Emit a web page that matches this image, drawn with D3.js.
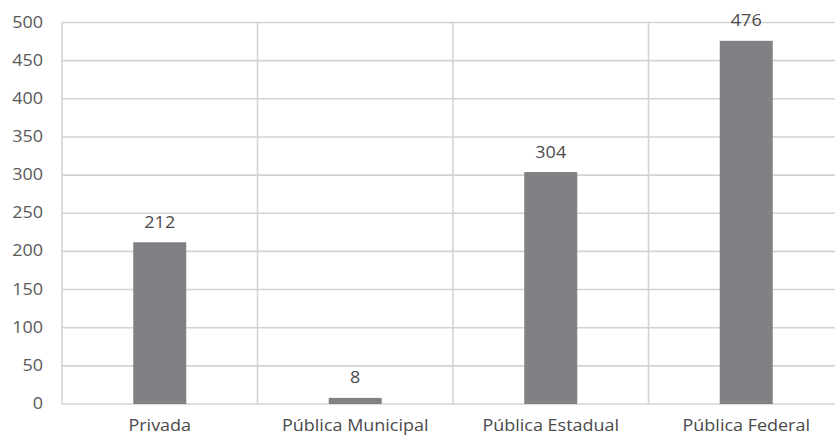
<!DOCTYPE html>
<html>
<head>
<meta charset="utf-8">
<script src="https://cdn.jsdelivr.net/npm/d3@7"></script>
<style>
  html, body { margin: 0; padding: 0; background: #fff; }
  svg { display: block; font-family: "Open Sans", sans-serif; }
</style>
</head>
<body>
<svg id="chart" width="835" height="435"></svg>
<script>
// Data
const categories = ["Privada", "Pública Municipal", "Pública Estadual", "Pública Federal"];
const values = [212, 8, 304, 476];
const yTicks = [0, 50, 100, 150, 200, 250, 300, 350, 400, 450, 500];

const svg = d3.select("#chart");
const plotLeft = 62, plotTop = 22.5, plotBottom = 404;
const bandW = 195.5;
const stretch = 1.16;   // text is set slightly wide
const fs = 15.5;

const x = d3.scaleBand().domain(categories).range([plotLeft, plotLeft + bandW * categories.length]).padding(0);
const y = d3.scaleLinear().domain([0, 500]).range([plotBottom, plotTop]);
const barW = 53;

const grid = "#d3d3d3";

// horizontal gridlines
svg.append("g").selectAll("line").data(yTicks).join("line")
  .attr("x1", plotLeft).attr("x2", plotLeft + bandW * categories.length)
  .attr("y1", d => y(d)).attr("y2", d => y(d))
  .attr("stroke", grid).attr("stroke-width", 1.6);

// vertical category separators
const seps = categories.map(c => x(c));
svg.append("g").selectAll("line").data(seps).join("line")
  .attr("x1", d => d).attr("x2", d => d)
  .attr("y1", y(500)).attr("y2", y(0))
  .attr("stroke", grid).attr("stroke-width", 1.6);

// y-axis labels
svg.append("g").selectAll("text").data(yTicks).join("text")
  .attr("transform", d => `translate(43,${y(d) + 5}) scale(${stretch},1)`)
  .attr("text-anchor", "end")
  .attr("font-size", fs).attr("fill", "#595959")
  .text(d => d);

// bars
svg.append("g").selectAll("rect").data(values).join("rect")
  .attr("x", (d, i) => x(categories[i]) + x.bandwidth() / 2 - barW / 2)
  .attr("width", barW)
  .attr("y", d => y(d))
  .attr("height", d => y(0) - y(d))
  .attr("fill", "#808184");

// value labels
svg.append("g").selectAll("text").data(values).join("text")
  .attr("transform", (d, i) => `translate(${x(categories[i]) + x.bandwidth() / 2},${y(d) - 14.5}) scale(${stretch},1)`)
  .attr("text-anchor", "middle")
  .attr("font-size", fs).attr("fill", "#4a4a4a")
  .text(d => d);

// category labels
svg.append("g").selectAll("text").data(categories).join("text")
  .attr("transform", d => `translate(${x(d) + x.bandwidth() / 2},431) scale(${stretch},1)`)
  .attr("text-anchor", "middle")
  .attr("font-size", fs).attr("fill", "#4a4a4a")
  .text(d => d);
</script>
</body>
</html>
